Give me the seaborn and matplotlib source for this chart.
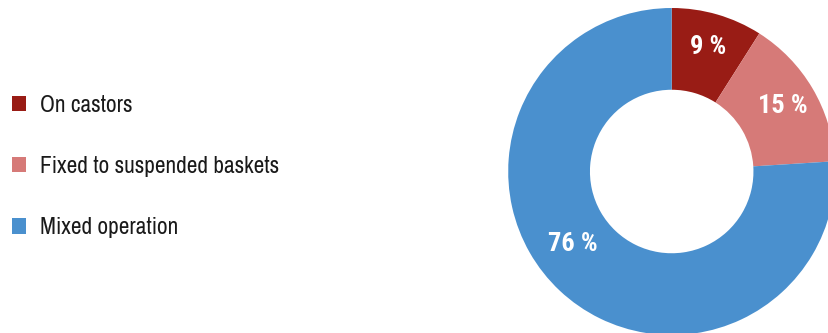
import matplotlib
matplotlib.use("Agg")
import matplotlib.pyplot as plt
from matplotlib.patches import Patch
import seaborn as sns
import numpy as np

# data
categories = ["On castors", "Fixed to suspended baskets", "Mixed operation"]
shares = [9, 15, 76]
colors = ["#991C15", "#D67A78", "#4A90CE"]

sns.set_theme(style="white")
plt.rcParams['font.family'] = ['Archivo Narrow', 'DejaVu Sans']

fig = plt.figure(figsize=(8.29, 3.33), dpi=100)
W, H = 829, 333
cx, cy, r = 671.7, 171.5, 163.5
ax = fig.add_axes([(cx - r) / W, (H - cy - r) / H, 2 * r / W, 2 * r / H])

palette = sns.color_palette(colors)
wedges, texts, autotexts = ax.pie(
    shares, colors=palette, startangle=90, counterclock=False,
    radius=1, wedgeprops=dict(width=0.5, linewidth=0),
    autopct=lambda p: f"{p:.0f} %", pctdistance=0.79,
    textprops=dict(color="white", fontsize=19, fontweight="bold",
                   family=['Roboto Condensed', 'Asap Condensed', 'DejaVu Sans']))

# the big label sits a bit further round, as in the original
ang = np.deg2rad(90 - 234)
autotexts[2].set_position((0.75 * np.cos(ang), 0.75 * np.sin(ang)))

ax.set_xlim(-1, 1)
ax.set_ylim(-1, 1)
ax.set_aspect("equal")
ax.axis("off")

handles = [Patch(facecolor=c, edgecolor="none") for c in palette]
fig.legend(handles, categories, loc="upper left", bbox_to_anchor=(0.0, 0.75),
           frameon=False, fontsize=16.8, handlelength=0.62, handleheight=0.62,
           handletextpad=0.6, labelspacing=1.72, borderaxespad=0.0,
           borderpad=0.5, labelcolor="#1a1a1a")

fig.savefig("out.png", dpi=100)
